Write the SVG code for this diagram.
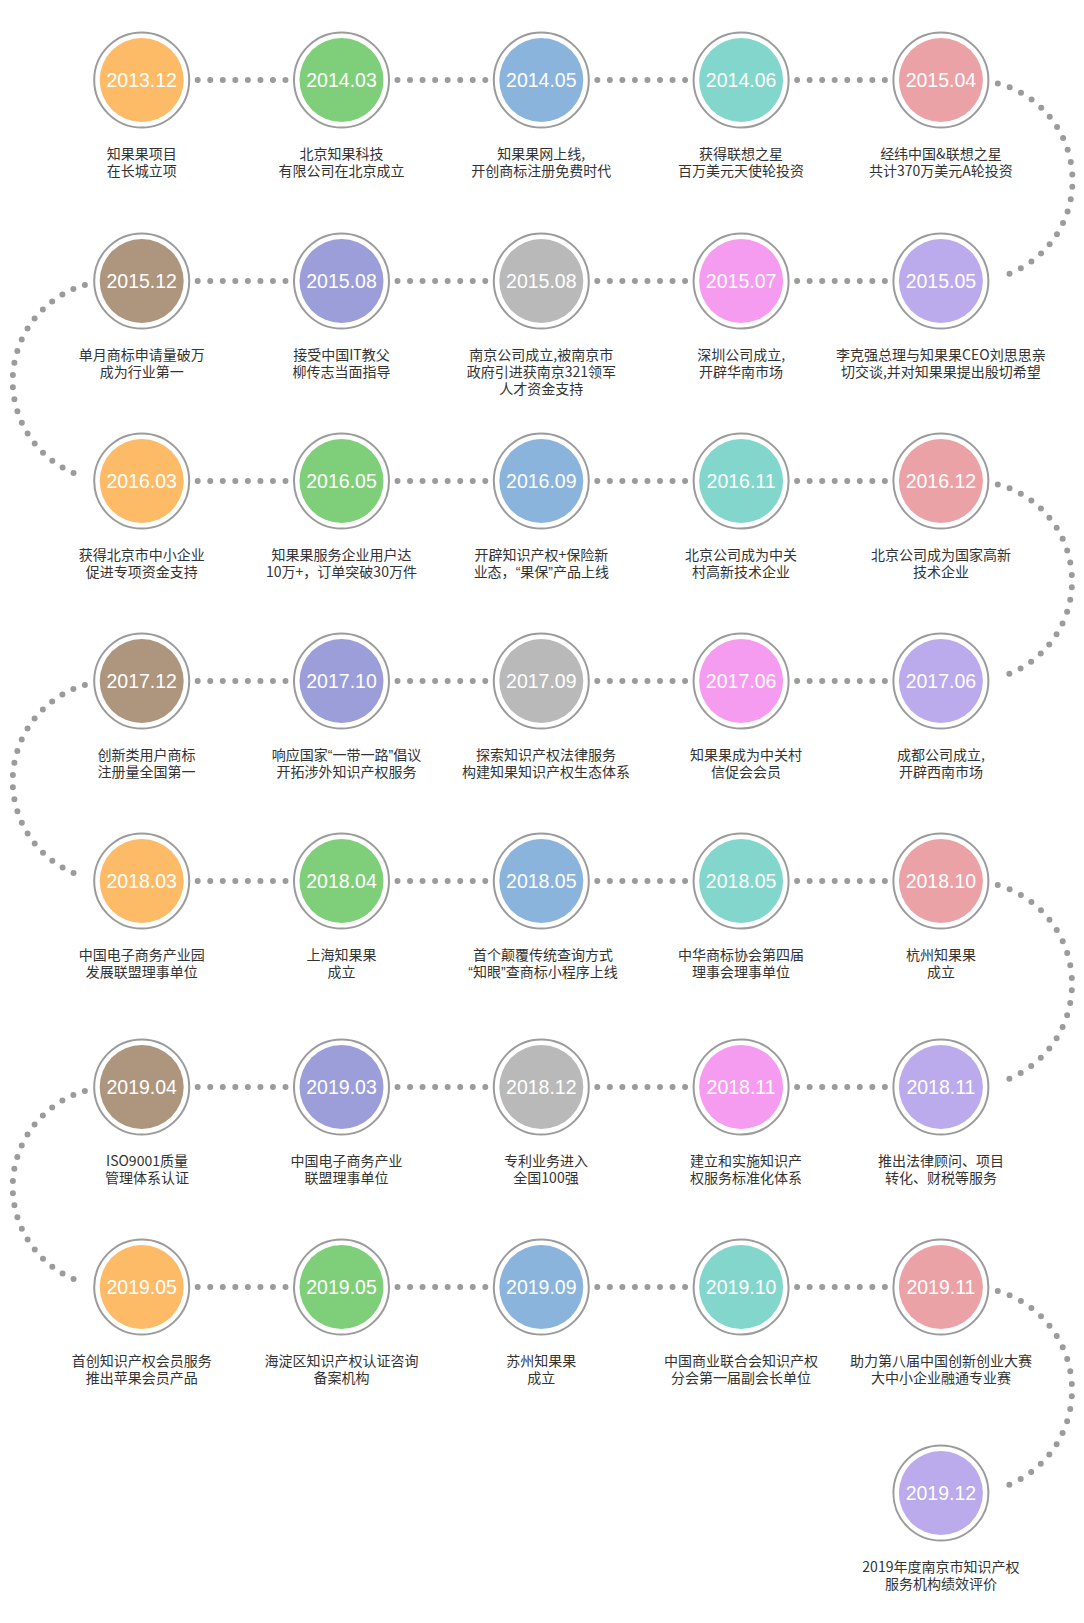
<svg xmlns="http://www.w3.org/2000/svg" width="1084" height="1623" viewBox="0 0 1084 1623">
<style>
.bg{fill:#ffffff}
.ring{fill:#ffffff;stroke:#9b9b9b;stroke-width:2}
.date{font-family:"Liberation Sans",Arial,sans-serif;font-size:19.5px;fill:#ffffff;text-anchor:middle}
.lbl{font-family:"Noto Sans CJK SC","Liberation Sans",sans-serif;font-size:14px;fill:#333333;text-anchor:middle}
.q{font-family:"Liberation Sans",Arial,sans-serif}
.dot{fill:none;stroke:#9b9b9b;stroke-width:6;stroke-linecap:round}
.h{stroke-dasharray:0 12.54}
.c1{fill:#fdbb68}.c2{fill:#7fcf7a}.c3{fill:#8ab4dc}.c4{fill:#83d6cb}.c5{fill:#eba2a6}
.c6{fill:#bbaaec}.c7{fill:#f59cf0}.c8{fill:#b9b9b9}.c9{fill:#9c9eda}.c10{fill:#ae957d}
</style>
<rect class="bg" x="0" y="0" width="1084" height="1623"/>
<g id="connectors">
<line class="dot h" x1="197.7" y1="80" x2="285.5" y2="80"/>
<line class="dot h" x1="397.5" y1="80" x2="485.3" y2="80"/>
<line class="dot h" x1="597.3" y1="80" x2="685.1" y2="80"/>
<line class="dot h" x1="797.1" y1="80" x2="884.9" y2="80"/>
<line class="dot h" x1="197.7" y1="281" x2="285.5" y2="281"/>
<line class="dot h" x1="397.5" y1="281" x2="485.3" y2="281"/>
<line class="dot h" x1="597.3" y1="281" x2="685.1" y2="281"/>
<line class="dot h" x1="797.1" y1="281" x2="884.9" y2="281"/>
<line class="dot h" x1="197.7" y1="481" x2="285.5" y2="481"/>
<line class="dot h" x1="397.5" y1="481" x2="485.3" y2="481"/>
<line class="dot h" x1="597.3" y1="481" x2="685.1" y2="481"/>
<line class="dot h" x1="797.1" y1="481" x2="884.9" y2="481"/>
<line class="dot h" x1="197.7" y1="681" x2="285.5" y2="681"/>
<line class="dot h" x1="397.5" y1="681" x2="485.3" y2="681"/>
<line class="dot h" x1="597.3" y1="681" x2="685.1" y2="681"/>
<line class="dot h" x1="797.1" y1="681" x2="884.9" y2="681"/>
<line class="dot h" x1="197.7" y1="881" x2="285.5" y2="881"/>
<line class="dot h" x1="397.5" y1="881" x2="485.3" y2="881"/>
<line class="dot h" x1="597.3" y1="881" x2="685.1" y2="881"/>
<line class="dot h" x1="797.1" y1="881" x2="884.9" y2="881"/>
<line class="dot h" x1="197.7" y1="1087" x2="285.5" y2="1087"/>
<line class="dot h" x1="397.5" y1="1087" x2="485.3" y2="1087"/>
<line class="dot h" x1="597.3" y1="1087" x2="685.1" y2="1087"/>
<line class="dot h" x1="797.1" y1="1087" x2="884.9" y2="1087"/>
<line class="dot h" x1="197.7" y1="1287" x2="285.5" y2="1287"/>
<line class="dot h" x1="397.5" y1="1287" x2="485.3" y2="1287"/>
<line class="dot h" x1="597.3" y1="1287" x2="685.1" y2="1287"/>
<line class="dot h" x1="797.1" y1="1287" x2="884.9" y2="1287"/>
<path class="dot" stroke-dasharray="0 12.54" d="M997.84,83.38 A100.5,100.5 0 0 1 997.84,277.62"/>
<path class="dot" stroke-dasharray="0 12.27" d="M84.87,284.95 A100,100 0 0 0 84.87,477.05"/>
<path class="dot" stroke-dasharray="0 12.47" d="M997.8,484.39 A100,100 0 0 1 997.8,677.61"/>
<path class="dot" stroke-dasharray="0 12.27" d="M84.87,684.95 A100,100 0 0 0 84.87,877.05"/>
<path class="dot" stroke-dasharray="0 12.63" d="M997.76,885.1 A103,103 0 0 1 997.76,1082.9"/>
<path class="dot" stroke-dasharray="0 12.27" d="M84.87,1090.95 A100,100 0 0 0 84.87,1283.05"/>
<path class="dot" stroke-dasharray="0 12.63" d="M997.76,1291.1 A103,103 0 0 1 997.76,1488.9"/>
</g>

<g id="n1"><circle class="ring" cx="141.7" cy="80" r="47.5"/><circle class="c1" cx="141.7" cy="80" r="42"/><text class="date" x="141.7" y="87">2013.12</text><text class="lbl" x="141.7" y="158.5">知果果项目</text><text class="lbl" x="141.7" y="175.5">在长城立项</text></g>
<g id="n2"><circle class="ring" cx="341.5" cy="80" r="47.5"/><circle class="c2" cx="341.5" cy="80" r="42"/><text class="date" x="341.5" y="87">2014.03</text><text class="lbl" x="341.5" y="158.5">北京知果科技</text><text class="lbl" x="341.5" y="175.5">有限公司在北京成立</text></g>
<g id="n3"><circle class="ring" cx="541.3" cy="80" r="47.5"/><circle class="c3" cx="541.3" cy="80" r="42"/><text class="date" x="541.3" y="87">2014.05</text><text class="lbl" x="541.3" y="158.5">知果果网上线,</text><text class="lbl" x="541.3" y="175.5">开创商标注册免费时代</text></g>
<g id="n4"><circle class="ring" cx="741.1" cy="80" r="47.5"/><circle class="c4" cx="741.1" cy="80" r="42"/><text class="date" x="741.1" y="87">2014.06</text><text class="lbl" x="741.1" y="158.5">获得联想之星</text><text class="lbl" x="741.1" y="175.5">百万美元天使轮投资</text></g>
<g id="n5"><circle class="ring" cx="940.9" cy="80" r="47.5"/><circle class="c5" cx="940.9" cy="80" r="42"/><text class="date" x="940.9" y="87">2015.04</text><text class="lbl" x="940.9" y="158.5">经纬中国&amp;联想之星</text><text class="lbl" x="940.9" y="175.5">共计370万美元A轮投资</text></g>

<g id="n6"><circle class="ring" cx="940.9" cy="281" r="47.5"/><circle class="c6" cx="940.9" cy="281" r="42"/><text class="date" x="940.9" y="288">2015.05</text><text class="lbl" x="940.9" y="359.5">李克强总理与知果果CEO刘思思亲</text><text class="lbl" x="940.9" y="376.5">切交谈,并对知果果提出殷切希望</text></g>
<g id="n7"><circle class="ring" cx="741.1" cy="281" r="47.5"/><circle class="c7" cx="741.1" cy="281" r="42"/><text class="date" x="741.1" y="288">2015.07</text><text class="lbl" x="741.1" y="359.5">深圳公司成立,</text><text class="lbl" x="741.1" y="376.5">开辟华南市场</text></g>
<g id="n8"><circle class="ring" cx="541.3" cy="281" r="47.5"/><circle class="c8" cx="541.3" cy="281" r="42"/><text class="date" x="541.3" y="288">2015.08</text><text class="lbl" x="541.3" y="359.5">南京公司成立,被南京市</text><text class="lbl" x="541.3" y="376.5">政府引进获南京321领军</text><text class="lbl" x="541.3" y="393.5">人才资金支持</text></g>
<g id="n9"><circle class="ring" cx="341.5" cy="281" r="47.5"/><circle class="c9" cx="341.5" cy="281" r="42"/><text class="date" x="341.5" y="288">2015.08</text><text class="lbl" x="341.5" y="359.5">接受中国IT教父</text><text class="lbl" x="341.5" y="376.5">柳传志当面指导</text></g>
<g id="n10"><circle class="ring" cx="141.7" cy="281" r="47.5"/><circle class="c10" cx="141.7" cy="281" r="42"/><text class="date" x="141.7" y="288">2015.12</text><text class="lbl" x="141.7" y="359.5">单月商标申请量破万</text><text class="lbl" x="141.7" y="376.5">成为行业第一</text></g>

<g id="n11"><circle class="ring" cx="141.7" cy="481" r="47.5"/><circle class="c1" cx="141.7" cy="481" r="42"/><text class="date" x="141.7" y="488">2016.03</text><text class="lbl" x="141.7" y="559.5">获得北京市中小企业</text><text class="lbl" x="141.7" y="576.5">促进专项资金支持</text></g>
<g id="n12"><circle class="ring" cx="341.5" cy="481" r="47.5"/><circle class="c2" cx="341.5" cy="481" r="42"/><text class="date" x="341.5" y="488">2016.05</text><text class="lbl" x="341.5" y="559.5">知果果服务企业用户达</text><text class="lbl" x="341.5" y="576.5">10万+，订单突破30万件</text></g>
<g id="n13"><circle class="ring" cx="541.3" cy="481" r="47.5"/><circle class="c3" cx="541.3" cy="481" r="42"/><text class="date" x="541.3" y="488">2016.09</text><text class="lbl" x="541.3" y="559.5">开辟知识产权+保险新</text><text class="lbl" x="541.3" y="576.5">业态，<tspan class="q">“</tspan>果保<tspan class="q">”</tspan>产品上线</text></g>
<g id="n14"><circle class="ring" cx="741.1" cy="481" r="47.5"/><circle class="c4" cx="741.1" cy="481" r="42"/><text class="date" x="741.1" y="488">2016.11</text><text class="lbl" x="741.1" y="559.5">北京公司成为中关</text><text class="lbl" x="741.1" y="576.5">村高新技术企业</text></g>
<g id="n15"><circle class="ring" cx="940.9" cy="481" r="47.5"/><circle class="c5" cx="940.9" cy="481" r="42"/><text class="date" x="940.9" y="488">2016.12</text><text class="lbl" x="940.9" y="559.5">北京公司成为国家高新</text><text class="lbl" x="940.9" y="576.5">技术企业</text></g>

<g id="n16"><circle class="ring" cx="940.9" cy="681" r="47.5"/><circle class="c6" cx="940.9" cy="681" r="42"/><text class="date" x="940.9" y="688">2017.06</text><text class="lbl" x="940.9" y="759.5">成都公司成立,</text><text class="lbl" x="940.9" y="776.5">开辟西南市场</text></g>
<g id="n17"><circle class="ring" cx="741.1" cy="681" r="47.5"/><circle class="c7" cx="741.1" cy="681" r="42"/><text class="date" x="741.1" y="688">2017.06</text><text class="lbl" x="746" y="759.5">知果果成为中关村</text><text class="lbl" x="746" y="776.5">信促会会员</text></g>
<g id="n18"><circle class="ring" cx="541.3" cy="681" r="47.5"/><circle class="c8" cx="541.3" cy="681" r="42"/><text class="date" x="541.3" y="688">2017.09</text><text class="lbl" x="546" y="759.5">探索知识产权法律服务</text><text class="lbl" x="546" y="776.5">构建知果知识产权生态体系</text></g>
<g id="n19"><circle class="ring" cx="341.5" cy="681" r="47.5"/><circle class="c9" cx="341.5" cy="681" r="42"/><text class="date" x="341.5" y="688">2017.10</text><text class="lbl" x="346.5" y="759.5">响应国家<tspan class="q">“</tspan>一带一路<tspan class="q">”</tspan>倡议</text><text class="lbl" x="346.5" y="776.5">开拓涉外知识产权服务</text></g>
<g id="n20"><circle class="ring" cx="141.7" cy="681" r="47.5"/><circle class="c10" cx="141.7" cy="681" r="42"/><text class="date" x="141.7" y="688">2017.12</text><text class="lbl" x="146.5" y="759.5">创新类用户商标</text><text class="lbl" x="146.5" y="776.5">注册量全国第一</text></g>

<g id="n21"><circle class="ring" cx="141.7" cy="881" r="47.5"/><circle class="c1" cx="141.7" cy="881" r="42"/><text class="date" x="141.7" y="888">2018.03</text><text class="lbl" x="141.7" y="959.5">中国电子商务产业园</text><text class="lbl" x="141.7" y="976.5">发展联盟理事单位</text></g>
<g id="n22"><circle class="ring" cx="341.5" cy="881" r="47.5"/><circle class="c2" cx="341.5" cy="881" r="42"/><text class="date" x="341.5" y="888">2018.04</text><text class="lbl" x="341.5" y="959.5">上海知果果</text><text class="lbl" x="341.5" y="976.5">成立</text></g>
<g id="n23"><circle class="ring" cx="541.3" cy="881" r="47.5"/><circle class="c3" cx="541.3" cy="881" r="42"/><text class="date" x="541.3" y="888">2018.05</text><text class="lbl" x="543" y="959.5">首个颠覆传统查询方式</text><text class="lbl" x="543" y="976.5"><tspan class="q">“</tspan>知眼<tspan class="q">”</tspan>查商标小程序上线</text></g>
<g id="n24"><circle class="ring" cx="741.1" cy="881" r="47.5"/><circle class="c4" cx="741.1" cy="881" r="42"/><text class="date" x="741.1" y="888">2018.05</text><text class="lbl" x="741.1" y="959.5">中华商标协会第四届</text><text class="lbl" x="741.1" y="976.5">理事会理事单位</text></g>
<g id="n25"><circle class="ring" cx="940.9" cy="881" r="47.5"/><circle class="c5" cx="940.9" cy="881" r="42"/><text class="date" x="940.9" y="888">2018.10</text><text class="lbl" x="940.9" y="959.5">杭州知果果</text><text class="lbl" x="940.9" y="976.5">成立</text></g>

<g id="n26"><circle class="ring" cx="940.9" cy="1087" r="47.5"/><circle class="c6" cx="940.9" cy="1087" r="42"/><text class="date" x="940.9" y="1094">2018.11</text><text class="lbl" x="940.9" y="1165.5">推出法律顾问、项目</text><text class="lbl" x="940.9" y="1182.5">转化、财税等服务</text></g>
<g id="n27"><circle class="ring" cx="741.1" cy="1087" r="47.5"/><circle class="c7" cx="741.1" cy="1087" r="42"/><text class="date" x="741.1" y="1094">2018.11</text><text class="lbl" x="746" y="1165.5">建立和实施知识产</text><text class="lbl" x="746" y="1182.5">权服务标准化体系</text></g>
<g id="n28"><circle class="ring" cx="541.3" cy="1087" r="47.5"/><circle class="c8" cx="541.3" cy="1087" r="42"/><text class="date" x="541.3" y="1094">2018.12</text><text class="lbl" x="546" y="1165.5">专利业务进入</text><text class="lbl" x="546" y="1182.5">全国100强</text></g>
<g id="n29"><circle class="ring" cx="341.5" cy="1087" r="47.5"/><circle class="c9" cx="341.5" cy="1087" r="42"/><text class="date" x="341.5" y="1094">2019.03</text><text class="lbl" x="346.5" y="1165.5">中国电子商务产业</text><text class="lbl" x="346.5" y="1182.5">联盟理事单位</text></g>
<g id="n30"><circle class="ring" cx="141.7" cy="1087" r="47.5"/><circle class="c10" cx="141.7" cy="1087" r="42"/><text class="date" x="141.7" y="1094">2019.04</text><text class="lbl" x="147" y="1165.5">ISO9001质量</text><text class="lbl" x="147" y="1182.5">管理体系认证</text></g>

<g id="n31"><circle class="ring" cx="141.7" cy="1287" r="47.5"/><circle class="c1" cx="141.7" cy="1287" r="42"/><text class="date" x="141.7" y="1294">2019.05</text><text class="lbl" x="141.7" y="1365.5">首创知识产权会员服务</text><text class="lbl" x="141.7" y="1382.5">推出苹果会员产品</text></g>
<g id="n32"><circle class="ring" cx="341.5" cy="1287" r="47.5"/><circle class="c2" cx="341.5" cy="1287" r="42"/><text class="date" x="341.5" y="1294">2019.05</text><text class="lbl" x="341.5" y="1365.5">海淀区知识产权认证咨询</text><text class="lbl" x="341.5" y="1382.5">备案机构</text></g>
<g id="n33"><circle class="ring" cx="541.3" cy="1287" r="47.5"/><circle class="c3" cx="541.3" cy="1287" r="42"/><text class="date" x="541.3" y="1294">2019.09</text><text class="lbl" x="541.3" y="1365.5">苏州知果果</text><text class="lbl" x="541.3" y="1382.5">成立</text></g>
<g id="n34"><circle class="ring" cx="741.1" cy="1287" r="47.5"/><circle class="c4" cx="741.1" cy="1287" r="42"/><text class="date" x="741.1" y="1294">2019.10</text><text class="lbl" x="741.1" y="1365.5">中国商业联合会知识产权</text><text class="lbl" x="741.1" y="1382.5">分会第一届副会长单位</text></g>
<g id="n35"><circle class="ring" cx="940.9" cy="1287" r="47.5"/><circle class="c5" cx="940.9" cy="1287" r="42"/><text class="date" x="940.9" y="1294">2019.11</text><text class="lbl" x="940.9" y="1365.5">助力第八届中国创新创业大赛</text><text class="lbl" x="940.9" y="1382.5">大中小企业融通专业赛</text></g>

<g id="n36"><circle class="ring" cx="940.9" cy="1493" r="47.5"/><circle class="c6" cx="940.9" cy="1493" r="42"/><text class="date" x="940.9" y="1500">2019.12</text><text class="lbl" x="940.9" y="1571.5">2019年度南京市知识产权</text><text class="lbl" x="940.9" y="1588.5">服务机构绩效评价</text></g>
</svg>
